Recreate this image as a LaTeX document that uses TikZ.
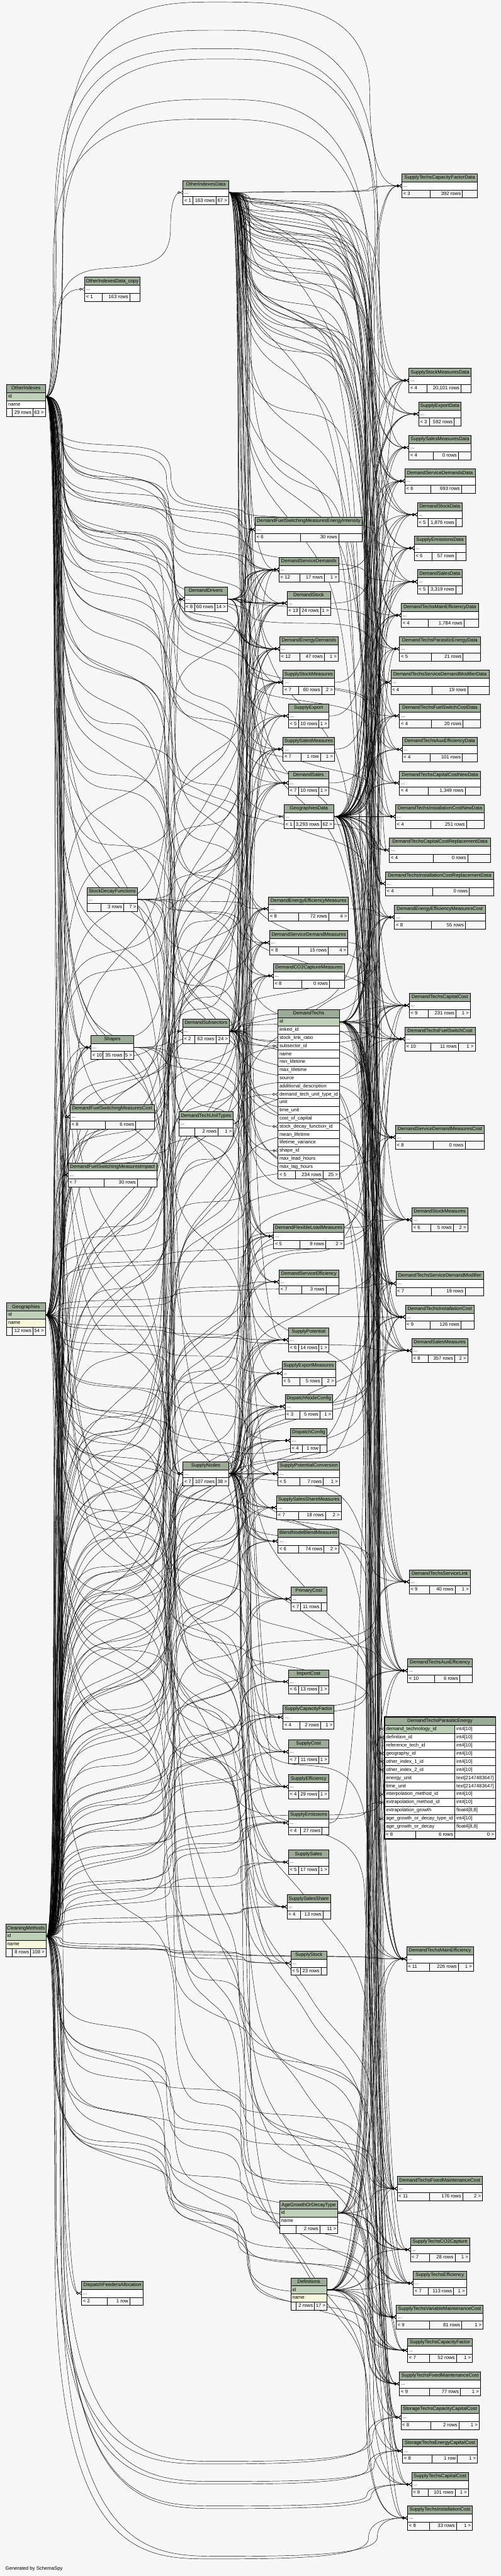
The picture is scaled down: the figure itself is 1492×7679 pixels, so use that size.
\documentclass[tikz,border=0pt]{standalone}
\usepackage{fontspec}
\setmainfont{Liberation Sans}
\usetikzlibrary{arrows.meta}
\definecolor{hdrc}{HTML}{9BAB96}
\definecolor{keyc}{HTML}{BED1B8}
\definecolor{idxc}{HTML}{F4F7DA}
\definecolor{bgc}{HTML}{F7F7F7}

\newcount\rndseed \rndseed=12345
\newcount\rtmp
\newcount\nch
\newcount\kk
\def\nextrand{\rtmp=\rndseed \multiply\rtmp by 75 \global\rndseed=\rtmp
  \divide\rtmp by 65537 \multiply\rtmp by 65537 \global\advance\rndseed by -\rtmp
  \rtmp=\numexpr\rndseed*1000/65537\relax
  \pgfmathsetmacro\rv{\the\rtmp/1000}}
\def\chanx#1{\nextrand\ifcase\numexpr#1\relax\pgfmathsetmacro\cxv{158+34*\rv}\or
  \pgfmathsetmacro\cxv{486+36*\rv}\or\pgfmathsetmacro\cxv{708+40*\rv}\else
  \pgfmathsetmacro\cxv{1086+46*\rv}\fi}
\def\crossh#1{\nextrand\pgfmathsetmacro\hv{\ys+(\yt-\ys)*(((#1)-0.9+0.8*\rv)/\the\nch)^\gexp}}

\newcommand\regtab[5]{%
  \expandafter\xdef\csname R@#1\endcsname{#2}%
  \expandafter\xdef\csname L@#1\endcsname{#3}%
  \expandafter\xdef\csname X@#1\endcsname{#4}%
  \expandafter\xdef\csname Y@#1\endcsname{#5}%
  \coordinate (#1-in) at ({#3},{#5});
  \coordinate (#1-out) at ({#4},{#5});}

\newcommand\fkedge[2]{%
  \edef\rp{\csname R@#1\endcsname}\edef\rc{\csname R@#2\endcsname}%
  \edef\xs{\csname X@#1\endcsname}\edef\ys{\csname Y@#1\endcsname}%
  \edef\xt{\csname L@#2\endcsname}\edef\yt{\csname Y@#2\endcsname}%
  \nch=\numexpr\rc-\rp\relax
  \ifcase\rp\relax\def\gexp{0.4}\or\def\gexp{1}\or\def\gexp{1.6}\else\def\gexp{1}\fi
  \chanx{\rp}\let\cxa\cxv
  \ifnum\nch=1 \let\ea\yt \else \crossh{1}\let\ea\hv \fi
  \pgfmathsetmacro\ma{(\ys+\ea)/2}%
  \pgfmathsetmacro\ctl{(2*\xs+\cxa)/3}%
  \edef\pth{.. controls (\ctl,\ys) and (\cxa,\ys) .. (\cxa,\ma)}%
  \kk=1
  \loop\ifnum\kk<\nch
    \chanx{\numexpr\rp+\kk\relax}\let\cxb\cxv
    \nextrand\pgfmathsetmacro\hb{\ea+(\yt-\ys)*0.06*\rv}%
    \advance\kk by 1
    \ifnum\kk=\nch \let\eb\yt \else \crossh{\the\kk}\let\eb\hv \fi
    \pgfmathsetmacro\pa{0.75*\cxa+0.25*\cxb}%
    \pgfmathsetmacro\pb{0.5*\cxa+0.5*\cxb}%
    \pgfmathsetmacro\pc{0.25*\cxa+0.75*\cxb}%
    \pgfmathsetmacro\hm{(\ea+\hb)/2}%
    \pgfmathsetmacro\mb{(\hb+\eb)/2}%
    \edef\pth{\pth .. controls (\cxa,\ea) and (\pa,\ea) .. (\pb,\hm) .. controls (\pc,\hb) and (\cxb,\hb) .. (\cxb,\mb)}%
    \let\cxa\cxb \let\ea\eb
  \repeat
  \pgfmathsetmacro\ctl{(\cxa+2*\xt)/3}%
  \edef\edgecmd{\noexpand\draw[rel] (#1-out) \pth .. controls (\cxa,\yt) and (\ctl,\yt) .. (#2-in);}%
  \edgecmd}

% relationship routed over the top or under the bottom of the picture
\newcommand\fkvia[3]{%
  \edef\xs{\csname X@#1\endcsname}\edef\ys{\csname Y@#1\endcsname}%
  \edef\xt{\csname L@#2\endcsname}\edef\yt{\csname Y@#2\endcsname}%
  \chanx{0}\let\cxa\cxv \chanx{3}\let\cxb\cxv
  \pgfmathsetmacro\ctl{(2*\xs+\cxa)/3}%
  \pgfmathsetmacro\ma{(\ys+#3)/2}%
  \pgfmathsetmacro\pa{0.72*\cxa+0.28*\cxb}%
  \pgfmathsetmacro\pb{0.5*\cxa+0.5*\cxb}%
  \pgfmathsetmacro\pc{0.28*\cxa+0.72*\cxb}%
  \pgfmathsetmacro\mb{(#3+\yt)/2}%
  \pgfmathsetmacro\ctlb{(\cxb+2*\xt)/3}%
  \edef\edgecmd{\noexpand\draw[rel] (#1-out) .. controls (\ctl,\ys) and (\cxa,\ys) .. (\cxa,\ma) .. controls (\cxa,#3) and (\pa,#3) .. (\pb,#3) .. controls (\pc,#3) and (\cxb,#3) .. (\cxb,\mb) .. controls (\cxb,\yt) and (\ctlb,\yt) .. (#2-in);}%
  \edgecmd}

\newcommand\thdr[5]{\fill[hdrc] ({#2},{#4}) rectangle ({#3},{#4+24});
  \draw[tline] ({#2},{#4}) rectangle ({#3},{#4+24});
  \node[cell] (#1) at ({(#2+#3)/2},{#4+12}) {#5};}
\newcommand\tabrow[6]{\fill[#5] ({#2},{#4}) rectangle ({#3},{#4+24});
  \draw[tline] ({#2},{#4}) rectangle ({#3},{#4+24});
  \node[cell,anchor=west] (#1) at ({#2+4},{#4+12}) {#6};}
\def\footsplit#1#2#3#4#5#6|#7|#8\relax{%
  \node[cell,anchor=west] (#1a) at ({#2+4},{#4+12}) {#6};
  \node[cell,anchor=east] (#1b) at ({#5-4},{#4+12}) {#7};
  \node[cell,anchor=east] (#1c) at ({#3-4},{#4+12}) {#8};}
\newcommand\tabfoot[7]{\fill[bgc] ({#2},{#4}) rectangle ({#3},{#4+24});
  \draw[tline] ({#2},{#4}) rectangle ({#3},{#4+24}) ({#5},{#4}) -- ({#5},{#4+24}) ({#6},{#4}) -- ({#6},{#4+24});
  \footsplit{#1}{#2}{#3}{#4}{#6}#7\relax}
\def\drawT#1#2#3#4#5#6#7#8#9{\thdr{#1}{#3}{#4}{#5}{#8}\tabrow{#1-dots}{#3}{#4}{#5+24}{white}{...}\tabfoot{#1-ft}{#3}{#4}{#5+48}{#6}{#7}{#9}}
\def\regT#1#2#3#4#5#6#7#8#9{\regtab{#1}{#2}{#3}{#4}{\the\numexpr#5+36\relax}}

\def\tables{%
\tabc{OIDc}{1}{252}{417}{826}{305}{386.5}{OtherIndexesData\_copy}{< 1|163 rows|}
\tabc{SDF}{1}{259}{410}{2645}{301}{368}{StockDecayFunctions}{|3 rows|7 >}
\tabc{Sh}{1}{271}{398}{3086}{307}{369}{Shapes}{< 10|35 rows|5 >}
\tabc{DFSMC}{1}{209}{459}{3293}{313}{404}{DemandFuelSwitchingMeasuresCost}{< 8|6 rows|}
\tabc{DFSMI}{1}{203}{467}{3466}{309}{409}{DemandFuelSwitchingMeasuresImpact}{< 7|30 rows|}
\tabc{DFA}{1}{243}{427}{6800}{318.5}{386.5}{DispatchFeedersAllocation}{< 2|1 row|}
\tabc{OID}{2}{545}{681}{538}{574.5}{644}{OtherIndexesData}{< 1|163 rows|67 >}
\tabc{DDr}{2}{549}{677}{1750}{579}{640}{DemandDrivers}{< 8|60 rows|14 >}
\tabc{DSub}{2}{544}{683}{3038}{579}{643}{DemandSubsectors}{< 2|63 rows|24 >}
\tabc{DTUT}{2}{532}{695}{3314}{579}{650}{DemandTechUnitTypes}{|2 rows|1 >}
\tabc{SN}{2}{545}{681}{4357}{574.5}{644}{SupplyNodes}{< 7|107 rows|38 >}
\tabc{DFSMEI}{3}{760}{1079}{1542}{895}{1009}{DemandFuelSwitchingMeasuresEnergyIntensity}{< 6|30 rows|}
\tabc{DSD}{3}{831}{1009}{1662}{892}{966}{DemandServiceDemands}{< 12|17 rows|1 >}
\tabc{DSt}{3}{855}{984}{1762}{892}{954}{DemandStock}{< 13|24 rows|1 >}
\tabc{DED}{3}{833}{1007}{1898}{892}{966}{DemandEnergyDemands}{< 12|47 rows|1 >}
\tabc{SSM}{3}{843}{996}{1998}{889}{958}{SupplyStockMeasures}{< 7|60 rows|2 >}
\tabc{SEx}{3}{859}{979}{2098}{889.5}{950}{SupplyExport}{< 5|10 rows|1 >}
\tabc{SSalM}{3}{843}{996}{2197}{896.5}{954}{SupplySalesMeasures}{< 7|1 row|1 >}
\tabc{DSa}{3}{859}{979}{2298}{889}{950}{DemandSales}{< 7|10 rows|1 >}
\tabc{GD}{3}{846}{994}{2398}{875.5}{956}{GeographiesData}{< 1|3,293 rows|62 >}
\tabc{DEEM}{3}{800}{1038}{2673}{889}{979}{DemandEnergyEfficiencyMeasures}{< 8|72 rows|4 >}
\tabc{DSDM}{3}{803}{1036}{2774}{889}{978}{DemandServiceDemandMeasures}{< 8|15 rows|4 >}
\tabc{DCO2}{3}{814}{1026}{2873}{899}{981}{DemandCO2CaptureMeasures}{< 8|0 rows|}
\tabc{DFLM}{3}{815}{1025}{3649}{893}{970}{DemandFlexibleLoadMeasures}{< 5|9 rows|2 >}
\tabc{DSE}{3}{831}{1009}{3785}{899}{971}{DemandServiceEfficiency}{< 7|3 rows|}
\tabc{SP}{3}{859}{979}{3958}{889}{950}{SupplyPotential}{< 6|14 rows|1 >}
\tabc{SExM}{3}{840}{999}{4058}{893}{958}{SupplyExportMeasures}{< 5|5 rows|2 >}
\tabc{DNC}{3}{849}{991}{4157}{893}{953}{DispatchNodeConfig}{< 3|5 rows|1 >}
\tabc{DC}{3}{865}{974}{4258}{901}{953}{DispatchConfig}{< 4|1 row|}
\tabc{SPC}{3}{828}{1011}{4357}{893}{963}{SupplyPotentialConversion}{< 5|7 rows|1 >}
\tabc{SSSM}{3}{824}{1016}{4458}{889}{969}{SupplySalesShareMeasures}{< 7|18 rows|2 >}
\tabc{BNBM}{3}{828}{1009}{4558}{889}{965}{BlendNodeBlendMeasures}{< 6|74 rows|2 >}
\tabc{PC}{3}{866}{974}{4730}{895}{956}{PrimaryCost}{< 7|11 rows|}
\tabc{IC}{3}{859}{979}{4977}{889}{950}{ImportCost}{< 6|13 rows|1 >}
\tabc{SCF}{3}{843}{995}{5083}{893}{955}{SupplyCapacityFactor}{< 4|2 rows|1 >}
\tabc{SC}{3}{859}{979}{5186}{889}{950}{SupplyCost}{< 7|11 rows|1 >}
\tabc{SEf}{3}{859}{979}{5290}{889}{950}{SupplyEfficiency}{< 4|29 rows|1 >}
\tabc{SEm}{3}{859}{980}{5398}{895}{959}{SupplyEmissions}{< 4|27 rows|}
\tabc{SSa}{3}{859}{979}{5515}{889}{950}{SupplySales}{< 5|17 rows|1 >}
\tabc{SSS}{3}{855}{984}{5648}{895}{962}{SupplySalesShare}{< 4|13 rows|}
\tabc{SSt}{3}{866}{974}{5816}{895}{956}{SupplyStock}{< 5|23 rows|}
\tabc{STCFD}{4}{1197}{1422}{518}{1281}{1377}{SupplyTechsCapacityFactorData}{< 3|392 rows|}
\tabc{SSMD}{4}{1218}{1403}{1098}{1271}{1373}{SupplyStockMeasuresData}{< 4|20,101 rows|}
\tabc{SED}{4}{1247}{1373}{1198}{1280}{1353}{SupplyExportData}{< 3|592 rows|}
\tabc{SSalMD}{4}{1218}{1403}{1298}{1290}{1365}{SupplySalesMeasuresData}{< 4|0 rows|}
\tabc{DSDD}{4}{1206}{1415}{1398}{1282}{1374}{DemandServiceDemandsData}{< 6|693 rows|}
\tabc{DStD}{4}{1243}{1377}{1498}{1275}{1358}{DemandStockData}{< 5|1,876 rows|}
\tabc{SEmD}{4}{1234}{1387}{1598}{1286}{1358}{SupplyEmissionsData}{< 6|57 rows|}
\tabc{DSaD}{4}{1243}{1377}{1698}{1275}{1358}{DemandSalesData}{< 5|3,319 rows|}
\tabc{DTMED}{4}{1195}{1425}{1798}{1275}{1382}{DemandTechsMainEfficiencyData}{< 4|1,784 rows|}
\tabc{DTPED}{4}{1190}{1430}{1898}{1284}{1379}{DemandTechsParasiticEnergyData}{< 5|21 rows|}
\tabc{DTSDMD}{4}{1164}{1457}{1998}{1286}{1393}{DemandTechsServiceDemandModifierData}{< 4|19 rows|}
\tabc{DTFSCD}{4}{1190}{1430}{2098}{1284}{1379}{DemandTechsFuelSwitchCostData}{< 4|20 rows|}
\tabc{DTAED}{4}{1198}{1422}{2198}{1281}{1377}{DemandTechsAuxEfficiencyData}{< 4|101 rows|}
\tabc{DTCCND}{4}{1190}{1431}{2298}{1275}{1385}{DemandTechsCapitalCostNewData}{< 4|1,349 rows|}
\tabc{DTICND}{4}{1178}{1443}{2398}{1282}{1389}{DemandTechsInstallationCostNewData}{< 4|251 rows|}
\tabc{DTCCRD}{4}{1160}{1461}{2498}{1290}{1393}{DemandTechsCapitalCostReplacementData}{< 4|0 rows|}
\tabc{DTICRD}{4}{1148}{1471}{2598}{1289}{1398}{DemandTechsInstallationCostReplacementData}{< 4|0 rows|}
\tabc{DEEMC}{4}{1175}{1445}{2698}{1284}{1386}{DemandEnergyEfficiencyMeasuresCost}{< 8|55 rows|}
\tabc{DTCC}{4}{1219}{1401}{2961}{1275}{1358}{DemandTechsCapitalCost}{< 9|231 rows|1 >}
\tabc{DTFSC}{4}{1206}{1415}{3061}{1283}{1365}{DemandTechsFuelSwitchCost}{< 10|11 rows|1 >}
\tabc{DSDMC}{4}{1178}{1443}{3354}{1290}{1385}{DemandServiceDemandMeasuresCost}{< 8|0 rows|}
\tabc{DStM}{4}{1227}{1393}{3600}{1283}{1350}{DemandStockMeasures}{< 6|5 rows|2 >}
\tabc{DTSDM}{4}{1179}{1441}{3790}{1284}{1385}{DemandTechsServiceDemandModifier}{< 7|19 rows|}
\tabc{DTIC}{4}{1207}{1413}{3890}{1281}{1373}{DemandTechsInstallationCost}{< 9|126 rows|}
\tabc{DSaM}{4}{1227}{1393}{3990}{1275}{1354}{DemandSalesMeasures}{< 8|357 rows|2 >}
\tabc{DTSL}{4}{1219}{1401}{4679}{1279}{1355}{DemandTechsServiceLink}{< 9|40 rows|1 >}
\tabc{DTAE}{4}{1214}{1407}{4944}{1294}{1369}{DemandTechsAuxEfficiency}{< 10|6 rows|}
\tabc{DTME}{4}{1211}{1410}{5803}{1279}{1365}{DemandTechsMainEfficiency}{< 11|226 rows|1 >}
\tabc{DTFMC}{4}{1183}{1437}{6488}{1279}{1378}{DemandTechsFixedMaintenanceCost}{< 11|176 rows|2 >}
\tabc{STCO2}{4}{1222}{1399}{6670}{1279}{1355}{SupplyTechsCO2Capture}{< 7|28 rows|1 >}
\tabc{STE}{4}{1231}{1389}{6770}{1275}{1351}{SupplyTechsEfficiency}{< 7|113 rows|1 >}
\tabc{STVMC}{4}{1180}{1439}{6871}{1279}{1375}{SupplyTechsVariableMaintenanceCost}{< 9|81 rows|1 >}
\tabc{STCF}{4}{1214}{1407}{6970}{1279}{1359}{SupplyTechsCapacityFactor}{< 7|52 rows|1 >}
\tabc{STFMC}{4}{1190}{1431}{7070}{1279}{1371}{SupplyTechsFixedMaintenanceCost}{< 9|77 rows|1 >}
\tabc{STCCC}{4}{1194}{1427}{7170}{1283}{1367}{StorageTechsCapacityCapitalCost}{< 8|2 rows|1 >}
\tabc{STECC}{4}{1199}{1422}{7270}{1287}{1362}{StorageTechsEnergyCapitalCost}{< 8|1 row|1 >}
\tabc{STCC}{4}{1226}{1395}{7370}{1275}{1355}{SupplyTechsCapitalCost}{< 9|101 rows|1 >}
\tabc{STIC}{4}{1214}{1407}{7470}{1279}{1359}{SupplyTechsInstallationCost}{< 8|33 rows|1 >}
}

\begin{document}
\begin{tikzpicture}[x=0.5pt,y=-0.5pt,font=\fontsize{7.25}{8.5}\selectfont,
  tline/.style={draw=black,line width=0.5pt},
  cell/.style={inner sep=0pt,text height=5.2pt,text depth=1.4pt},
  rel/.style={line width=0.42pt,-{Circle[open,length=4pt,width=4pt] Straight Barb[reversed,length=3.5pt,width=5pt]}}]
\fill[bgc] (0,0) rectangle (1492,7679);
\useasboundingbox (0,0) rectangle (1492,7679);

% ---------- register tables ----------
\let\tabc\regT
\tables
\regtab{OI}{0}{20}{135}{1182}
\regtab{Geo}{0}{20}{135}{3920}
\regtab{CM}{0}{17}{137}{5772}
\regtab{AGDT}{3}{833}{1006}{6597}
\regtab{Def}{3}{866}{974}{6826}
\regtab{DT}{3}{828}{1011}{3046}
\regtab{DTr4}{3}{828}{1011}{3118}
\regtab{DTr10}{3}{828}{1011}{3262}
\regtab{DTr14}{3}{828}{1011}{3358}
\regtab{DTr17}{3}{828}{1011}{3430}
\regtab{DTPEr1}{4}{1145}{1476}{5154.4}
\regtab{DTPEr2}{4}{1145}{1476}{5178.7}
\regtab{DTPEr4}{4}{1145}{1476}{5227.2}
\regtab{DTPEr5}{4}{1145}{1476}{5251.5}
\regtab{DTPEr6}{4}{1145}{1476}{5275.8}
\regtab{DTPEr9}{4}{1145}{1476}{5348.6}
\regtab{DTPEr10}{4}{1145}{1476}{5372.9}
\regtab{DTPEr12}{4}{1145}{1476}{5421.4}

% ---------- relationships ----------
\foreach \tg in {OIDc,Sh,Sh,DFSMC,DFSMC,DFSMI,DFSMI,OID,DDr,SN,SN,DFSMEI,DSD,DSD,DSt,DED,SSM,SEx,SSalM,DSa,DEEM,DSDM,DCO2,DFLM,DSE,SP,SExM,SEmD,DSaD,DTMED,DTPED,DTSDMD,DTFSCD,DTAED,DTCCND,DTICND,DTCCRD,DTICRD,DTCC,DTFSC,DSDMC,DStM,DTSDM,DTIC,DSaM,DTSL,DTAE,DTPEr5,DTPEr6,DTME,DTFMC,STCO2,STE,STVMC,STCF,STFMC,STCCC,STECC,STCC,STIC,DEEMC}{\fkedge{OI}{\tg}}
\fkvia{OI}{STCFD}{6}
\fkvia{OI}{SSMD}{90}
\fkvia{OI}{SED}{145}
\fkvia{OI}{SSalMD}{176}
\fkvia{OI}{DSDD}{296}
\fkvia{OI}{DStD}{355}
\foreach \tg in {Sh,DFSMC,DFSMI,DFA,DDr,SN,GD,DFSMEI,DSD,DSt,DED,SSM,SEx,SSalM,DSa,DEEM,DSDM,DCO2,DFLM,DSE,SP,SExM,DNC,DC,SPC,SSSM,BNBM,PC,IC,SCF,SC,SEf,SEm,SSa,SSS,SSt,DEEMC,DTCC,DTFSC,DSDMC,DStM,DTSDM,DTIC,DSaM,DTSL,DTAE,DTPEr4,DTME,DTFMC,STCO2,STE,STVMC,STCF,STFMC}{\fkedge{Geo}{\tg}}
\foreach \tg in {Sh,DFSMC,DFSMI,DDr,SN,DFSMEI,DSD,DSt,DED,SSM,SEx,SSalM,DSa,DEEM,DSDM,DCO2,DFLM,DSE,SP,SExM,DNC,DC,SPC,SSSM,BNBM,PC,IC,SCF,SC,SEf,SEm,SSa,SSS,SSt,DEEMC,DTCC,DTFSC,DSDMC,DStM,DTSDM,DTIC,DSaM,DTSL,DTAE,DTME,DTFMC,STCO2,STE,STVMC,STCF,STFMC}{\fkedge{CM}{\tg}\fkedge{CM}{\tg}}
\foreach \tg in {DFA,DSub,DTPEr9,DTPEr10}{\fkedge{CM}{\tg}}
\fkvia{CM}{STIC}{7628}\fkvia{CM}{STIC}{7620}
\fkvia{CM}{STCC}{7478}\fkvia{CM}{STCC}{7470}
\fkvia{CM}{STECC}{7405}\fkvia{CM}{STECC}{7397}
\fkvia{CM}{STCCC}{7345}\fkvia{CM}{STCCC}{7337}
\foreach \tg in {DTCC,DTFSC,DTSDM,DTIC,DTAE,DTPEr2,DTME,DTFMC,STCO2,STE,STVMC,STCF,STFMC,STCCC,STECC,STCC,STIC}{\fkedge{Def}{\tg}}
\foreach \tg in {DTCC,DTFSC,DTIC,DTAE,DTPEr12,DTME,DTFMC,STVMC,STFMC,STE,STCF}{\fkedge{AGDT}{\tg}}
\foreach \tg in {STCFD,SSMD,SED,SSalMD,DSDD,DStD,SEmD,DSaD,DTMED,DTPED,DTSDMD,DTFSCD,DTAED,DTCCND,DTICND,DTCCRD,DTICRD}{\fkedge{OID}{\tg}\fkedge{OID}{\tg}\fkedge{GD}{\tg}\fkedge{GD}{\tg}}
\foreach \tg in {DEEMC,DTCC,DTFSC,DSDMC,DStM,DTSDM,DTIC,DSaM,DTSL,DTAE,DTME,DTFMC,STCO2,STE,STVMC,STCF,STFMC,STCCC,STECC,STCC,STIC}{\fkedge{OID}{\tg}\fkedge{GD}{\tg}}
\foreach \tg in {SSM,SEx,SSalM,DSa,DSD,DSt,DED,SP,SPC,SC,SEf,DFSMEI}{\fkedge{OID}{\tg}}
\foreach \tg in {DTCC,DTCC,DTFSC,DTFSC,DTSDM,DTSDM,DTIC,DTIC,DTSL,DTSL,DTAE,DTAE,DTPEr1,DTME,DTME,DTFMC,DTFMC,DSaM,DStM,DSDD,DStD,DSaD,DTSDMD,DTFSCD,DTMED}{\fkedge{DT}{\tg}}
\foreach \tg in {DSD,DSD,DSD,DSD,DSt,DSt,DSt,DSt,DSt,DED,DED,DED,DED,DED}{\fkedge{DDr}{\tg}}
\foreach \tg in {DSD,DSt,DED,DSa,DEEM,DSDM,DCO2,DTr4,DFLM,DSE,DFSMEI,DStM,DSaM,DEEMC,DSDMC,DTSL,DTSDM,DTFSC,DTCC,DTIC,DTAE,DTME,DTFMC,DSDD}{\fkedge{DSub}{\tg}}
\foreach \tg in {SSM,SEx,SSalM,SP,SP,SExM,DNC,DNC,DC,DC,SPC,SPC,SSSM,SSSM,BNBM,BNBM,BNBM,PC,PC,IC,SCF,SC,SEf,SEf,SEm,SSa,SSS,SSS,SSt,DED,DSD,DTME,DTAE,DTPED,SEmD,STE,DTMED,SSMD}{\fkedge{SN}{\tg}}
\foreach \tg in {DTr14,SN,DEEM,DSDM,DCO2,DFLM,SSM}{\fkedge{SDF}{\tg}}
\foreach \tg in {DSub,DTr17,SN,DFLM,DNC}{\fkedge{Sh}{\tg}}
\fkedge{DTUT}{DTr10}
\fkedge{DSD}{DSDD}
\fkedge{DSt}{DStD}
\fkedge{SSM}{SSMD}
\fkedge{SEx}{SED}
\fkedge{SSalM}{SSalMD}
\fkedge{DSa}{DSaD}
\fkedge{SEm}{SEmD}
\fkedge{DEEM}{DEEMC}
\fkedge{DSDM}{DSDMC}

% ---------- tables ----------
\let\tabc\drawT
\tables

\thdr{OI}{20}{135}{1146}{OtherIndexes}
\tabrow{OI-id}{20}{135}{1170}{keyc}{id}
\tabrow{OI-name}{20}{135}{1194}{white}{name}
\tabfoot{OI-ft}{20}{135}{1218}{36.5}{98}{|29 rows|63 >}

\thdr{Geo}{20}{135}{3884}{Geographies}
\tabrow{Geo-id}{20}{135}{3908}{keyc}{id}
\tabrow{Geo-name}{20}{135}{3932}{idxc}{name}
\tabfoot{Geo-ft}{20}{135}{3956}{36.5}{98}{|12 rows|54 >}

\thdr{CM}{17}{137}{5736}{CleaningMethods}
\tabrow{CM-id}{17}{137}{5760}{keyc}{id}
\tabrow{CM-name}{17}{137}{5784}{idxc}{name}
\tabfoot{CM-ft}{17}{137}{5808}{36.5}{91}{|8 rows|108 >}

\thdr{AGDT}{833}{1006}{6561}{AgeGrowthOrDecayType}
\tabrow{AGDT-id}{833}{1006}{6585}{keyc}{id}
\tabrow{AGDT-name}{833}{1006}{6609}{white}{name}
\tabfoot{AGDT-ft}{833}{1006}{6633}{882.5}{952.6}{|2 rows|11 >}

\thdr{Def}{866}{974}{6790}{Definitions}
\tabrow{Def-id}{866}{974}{6814}{keyc}{id}
\tabrow{Def-name}{866}{974}{6838}{idxc}{name}
\tabfoot{Def-ft}{866}{974}{6862}{882.5}{936.5}{|2 rows|17 >}

\thdr{DT}{828}{1011}{3010}{DemandTechs}
\foreach \rt/\rf [count=\ri] in {id/keyc,linked\_id/white,stock\_link\_ratio/white,subsector\_id/white,name/white,min\_lifetime/white,max\_lifetime/white,source/white,additional\_description/white,demand\_tech\_unit\_type\_id/white,unit/white,time\_unit/white,cost\_of\_capital/white,stock\_decay\_function\_id/white,mean\_lifetime/white,lifetime\_variance/white,shape\_id/white,max\_lead\_hours/white,max\_lag\_hours/white}{\tabrow{DT-r\ri}{828}{1011}{3010+24*\ri}{\rf}{\rt}}
\tabfoot{DT-ft}{828}{1011}{3490}{880}{962}{< 5|234 rows|25 >}

\thdr{DTPE}{1145}{1476}{5118}{DemandTechsParasiticEnergy}
\foreach \rt/\rty/\rf [count=\ri] in {demand\_technology\_id/int4[10]/keyc,definition\_id/int4[10]/white,reference\_tech\_id/int4[10]/white,geography\_id/int4[10]/white,other\_index\_1\_id/int4[10]/white,other\_index\_2\_id/int4[10]/white,energy\_unit/text[2147483647]/white,time\_unit/text[2147483647]/white,interpolation\_method\_id/int4[10]/white,extrapolation\_method\_id/int4[10]/white,extrapolation\_growth/{float4[8,8]}/white,age\_growth\_or\_decay\_type\_id/int4[10]/white,age\_growth\_or\_decay/{float4[8,8]}/white}{
  \pgfmathsetmacro\ry{5118+24.27*\ri}
  \fill[\rf] (1145,\ry) rectangle (1354,{\ry+24.27});
  \fill[white] (1354,\ry) rectangle (1476,{\ry+24.27});
  \draw[tline] (1145,\ry) rectangle (1354,{\ry+24.27}) (1354,\ry) rectangle (1476,{\ry+24.27});
  \node[cell,anchor=west] (DTPE-n\ri) at (1150,{\ry+12.1}) {\rt};
  \node[cell,anchor=west] (DTPE-t\ri) at (1359,{\ry+12.1}) {\rty};
}
\tabfoot{DTPE-ft}{1145}{1476}{5457.8}{1238}{1354}{< 8|6 rows|0 >}
\draw[line width=1.4pt] (1145,5118) rectangle (1476,5482);

\node[cell,anchor=west] (gen) at (16,7658) {Generated by SchemaSpy};
\end{tikzpicture}
\end{document}
